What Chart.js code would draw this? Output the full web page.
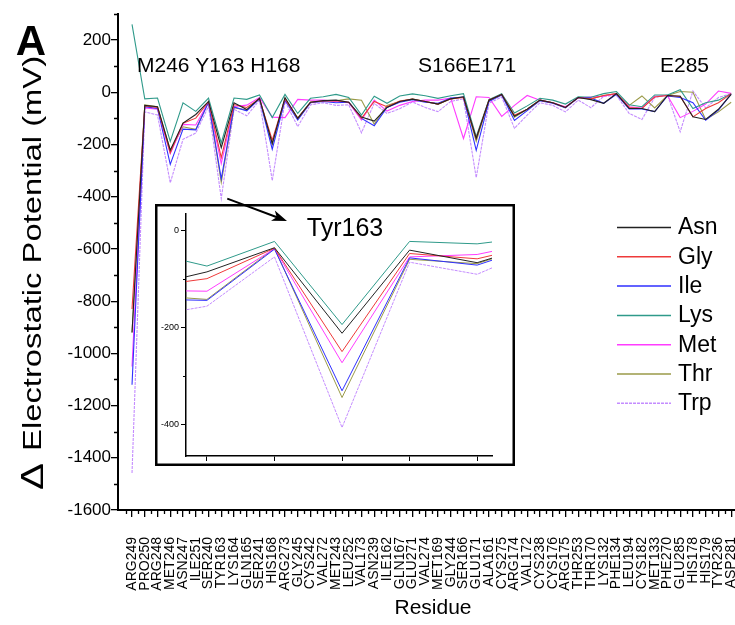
<!DOCTYPE html>
<html>
<head>
<meta charset="utf-8">
<script src="https://cdn.jsdelivr.net/npm/chart.js@4.4.1/dist/chart.umd.min.js"></script>
<style>
  html, body { margin: 0; padding: 0; background: #fff; }
  #wrap { position: relative; width: 735px; height: 625px; }
  #main { position: absolute; left: 0; top: 0; }
  #insetChart { position: absolute; left: 157px; top: 206px; }
</style>
</head>
<body>
<div id="wrap">
  <canvas id="main" width="735" height="625"></canvas>
  <canvas id="insetChart" width="356" height="258"></canvas>
</div>
<script>
// residues along the x axis
const residues = ['ARG249', 'PRO250', 'ARG248', 'MET246', 'ASN247', 'ILE251', 'SER240', 'TYR163',
  'LYS164', 'GLN165', 'SER241', 'HIS168', 'ARG273', 'GLY245', 'CYS242', 'VAL272', 'MET243',
  'LEU252', 'VAL173', 'ASN239', 'ILE162', 'GLN167', 'GLU271', 'VAL274', 'MET169', 'GLY244',
  'SER166', 'GLU171', 'ALA161', 'CYS275', 'ARG174', 'VAL172', 'CYS238', 'CYS176', 'ARG175',
  'THR253', 'THR170', 'LYS132', 'PHE134', 'LEU194', 'CYS182', 'MET133', 'PHE270', 'GLU285',
  'HIS178', 'HIS179', 'TYR236', 'ASP281'];

// change in electrostatic potential (mV) per mutant
const asn = [-920, -50, -55, -222, -118, -85, -35, -212, -40, -66, -23, -196, -20, -100, -38, -32,
  -30, -38, -95, -110, -58, -35, -26, -35, -45, -25, -17, -177, -30, -8, -92, -65,
  -30, -40, -58, -20, -28, -42, -5, -62, -62, -74, -12, -15, -94, -104, -65, -8];
const gly = [-830, -52, -58, -232, -118, -99, -36, -250, -47, -58, -25, -183, -25, -100, -38, -33,
  -32, -38, -100, -35, -55, -33, -26, -35, -45, -25, -20, -177, -30, -8, -88, -65,
  -30, -40, -58, -20, -25, -12, -5, -58, -62, -18, -12, -15, -94, -62, -40, -5];
const ile = [-1120, -55, -62, -276, -141, -144, -38, -331, -56, -71, -25, -218, -30, -106, -40, -35,
  -40, -38, -100, -128, -58, -38, -28, -38, -42, -22, -18, -222, -35, -10, -108, -70,
  -32, -42, -60, -20, -22, -42, -8, -64, -64, -74, -14, -20, -40, -107, -68, -6];
const lys = [260, -25, -22, -188, -40, -73, -22, -194, -22, -27, -10, -97, -8, -81, -23, -17,
  -8, -20, -87, -15, -42, -14, -6, -13, -23, -13, -5, -170, -28, -5, -79, -52,
  -23, -30, -45, -17, -19, -5, 3, -48, -55, -10, -10, 10, -62, -40, -30, -5];
const met = [-1050, -60, -65, -235, -123, -125, -37, -273, -54, -49, -20, -95, -97, -27, -30, -30,
  -35, -40, -106, -30, -72, -50, -35, -30, -30, -22, -177, -17, -20, -92, -50, -12,
  -30, -40, -55, -22, -18, -15, -5, -55, -60, -15, -12, -97, -73, -45, 5, -4];
const thr = [-920, -48, -55, -222, -132, -142, -36, -345, -59, -68, -22, -200, -25, -98, -38, -33,
  -32, -25, -30, -122, -50, -35, -26, -35, -45, -25, -18, -188, -30, -8, -95, -65,
  -30, -40, -58, -20, -25, -12, -5, -50, -14, -60, -12, 3, 0, -104, -75, -38];
const trp = [-1458, -75, -87, -347, -180, -156, -54, -407, -65, -90, -30, -338, -35, -131, -48, -40,
  -50, -48, -155, -42, -81, -63, -37, -58, -74, -35, -25, -327, -42, -18, -138, -87,
  -40, -50, -75, -30, -59, -15, -12, -81, -104, -20, -10, -151, 5, -60, -20, -5];

const seriesNames = ['Asn', 'Gly', 'Ile', 'Lys', 'Met', 'Thr', 'Trp'];
const seriesValues = [asn, gly, ile, lys, met, thr, trp];

const yTicks = [200, 0, -200, -400, -600, -800, -1000, -1200, -1400, -1600];
const yMinorTicks = [300, 100, -100, -300, -500, -700, -900, -1100, -1300, -1500];
const insetXTicks = [5, 6, 7, 8, 9];
const insetYTicks = [0, -200, -400];
const insetYMinorTicks = [-100, -300];

const callouts = ['M246 Y163 H168', 'S166E171', 'E285'];
const insetLabel = 'Tyr163';
const panelLetter = 'A';
const yTitle = 'Electrostatic Potential (mV)';
const xTitle = 'Residue';

const lineStyles = {
  Asn: { color: '#222222' },
  Gly: { color: '#ee3a3a' },
  Ile: { color: '#2f2fff' },
  Lys: { color: '#2f9a8a' },
  Met: { color: '#ff3cff' },
  Thr: { color: '#9a9a48' },
  Trp: { color: '#c48cff', dash: [3, 1] }
};

const FONT = "'Liberation Sans', Arial, sans-serif";

function makeSets(width) {
  return seriesNames.map((name, k) => ({
    label: name,
    data: seriesValues[k].map((v, i) => ({ x: i, y: v })),
    borderColor: lineStyles[name].color,
    borderWidth: width,
    borderDash: lineStyles[name].dash || [],
    pointRadius: 0,
    tension: 0,
    fill: false
  }));
}

// short unlabelled ticks between the labelled ones
const minorTicks = {
  id: 'minorTicks',
  afterDraw(chart, args, opts) {
    const ctx = chart.ctx;
    const xs = chart.scales.x, ys = chart.scales.y;
    ctx.save();
    ctx.strokeStyle = '#000';
    ctx.lineWidth = opts.width;
    ctx.beginPath();
    (opts.x || []).forEach(v => {
      const px = Math.round(xs.getPixelForValue(v)) + 0.5;
      ctx.moveTo(px, xs.top);
      ctx.lineTo(px, xs.top + opts.len);
    });
    (opts.y || []).forEach(v => {
      const py = Math.round(ys.getPixelForValue(v)) + 0.5;
      ctx.moveTo(ys.right, py);
      ctx.lineTo(ys.right - opts.len, py);
    });
    ctx.stroke();
    ctx.restore();
  }
};

// titles, callouts, inset frame, arrow and legend of the main panel
const mainDecor = {
  id: 'mainDecor',
  afterDraw(chart) {
    const ctx = chart.ctx;
    ctx.save();
    ctx.fillStyle = '#000';

    ctx.font = 'bold 42px ' + FONT;
    ctx.textAlign = 'center';
    ctx.textBaseline = 'middle';
    ctx.fillText(panelLetter, 31, 43);

    ctx.font = '21px ' + FONT;
    ctx.textAlign = 'left';
    ctx.fillText(callouts[0], 137, 66);
    ctx.fillText(callouts[1], 418, 66);
    ctx.fillText(callouts[2], 660, 66);

    ctx.textAlign = 'center';
    ctx.fillText(xTitle, 433, 608);

    // rotated y title with the delta sign
    ctx.save();
    ctx.translate(34, 490);
    ctx.rotate(-Math.PI / 2);
    ctx.scale(1.26, 1);
    ctx.textAlign = 'left';
    ctx.font = '32px ' + FONT;
    ctx.fillText('\u0394', 0, 0);
    ctx.font = '26px ' + FONT;
    ctx.fillText(yTitle, 31, 0);
    ctx.restore();

    // inset frame
    ctx.strokeStyle = '#000';
    ctx.lineWidth = 2.5;
    ctx.strokeRect(156.25, 205.25, 357.5, 259.5);

    // arrow towards the inset label
    const xs = chart.scales.x, ys = chart.scales.y;
    const x0 = xs.getPixelForValue(7) + 6, y0 = ys.getPixelForValue(-407);
    const x1 = 287, y1 = 221;
    const ang = Math.atan2(y1 - y0, x1 - x0);
    ctx.lineWidth = 2;
    ctx.beginPath();
    ctx.moveTo(x0, y0);
    ctx.lineTo(x1 - 10 * Math.cos(ang), y1 - 10 * Math.sin(ang));
    ctx.stroke();
    ctx.beginPath();
    ctx.moveTo(x1, y1);
    ctx.lineTo(x1 - 16 * Math.cos(ang - 0.35), y1 - 16 * Math.sin(ang - 0.35));
    ctx.lineTo(x1 - 11 * Math.cos(ang), y1 - 11 * Math.sin(ang));
    ctx.lineTo(x1 - 16 * Math.cos(ang + 0.35), y1 - 16 * Math.sin(ang + 0.35));
    ctx.closePath();
    ctx.fill();

    // legend
    ctx.font = '23px ' + FONT;
    ctx.textAlign = 'left';
    chart.data.datasets.forEach((ds, k) => {
      const y = 227 + 29.3 * k;
      ctx.strokeStyle = ds.borderColor;
      ctx.lineWidth = 1.5;
      ctx.setLineDash(ds.borderDash);
      ctx.beginPath();
      ctx.moveTo(617, y + 0.5);
      ctx.lineTo(671, y + 0.5);
      ctx.stroke();
      ctx.setLineDash([]);
      ctx.fillText(ds.label, 678, y + 1);
    });
    ctx.restore();
  }
};

const insetDecor = {
  id: 'insetDecor',
  afterDraw(chart) {
    const ctx = chart.ctx;
    ctx.save();
    ctx.fillStyle = '#000';
    ctx.font = '25px ' + FONT;
    ctx.textAlign = 'center';
    ctx.textBaseline = 'middle';
    ctx.fillText(insetLabel, 188, 23);
    ctx.restore();
  }
};

const tickFont = { family: FONT, size: 17 };

new Chart(document.getElementById('main'), {
  type: 'line',
  data: { datasets: makeSets(1.1) },
  options: {
    responsive: false,
    animation: false,
    layout: { padding: { top: 14, right: 0, left: 0, bottom: 0 } },
    plugins: {
      legend: { display: false },
      tooltip: { enabled: false },
      minorTicks: { x: residues.map((_, i) => i - 0.5), y: yMinorTicks, len: 4, width: 1.3 }
    },
    scales: {
      x: {
        type: 'linear',
        min: -1.1,
        max: 47.3,
        afterFit: s => { s.height = 115; s.paddingLeft = 0; s.paddingRight = 0; },
        afterBuildTicks: s => { s.ticks = residues.map((_, i) => ({ value: i })); },
        ticks: {
          callback: v => residues[v],
          autoSkip: false,
          minRotation: 90,
          maxRotation: 90,
          padding: 20,
          color: '#000',
          font: { family: FONT, size: 14 }
        },
        grid: { drawOnChartArea: false, drawTicks: true, tickLength: 7, color: '#000', lineWidth: 1.3 },
        border: { display: true, color: '#000', width: 2 }
      },
      y: {
        min: -1600,
        max: 300,
        afterFit: s => { s.width = 118; },
        afterBuildTicks: s => { s.ticks = yTicks.map(v => ({ value: v })); },
        ticks: { callback: v => String(v), padding: 0, color: '#000', font: tickFont },
        grid: { drawOnChartArea: false, drawTicks: true, tickLength: 7, color: '#000', lineWidth: 1.3 },
        border: { display: true, color: '#000', width: 2 }
      }
    }
  },
  plugins: [minorTicks, mainDecor]
});

// close-up around Tyr163
new Chart(document.getElementById('insetChart'), {
  type: 'line',
  data: { datasets: makeSets(1) },
  options: {
    responsive: false,
    animation: false,
    layout: { padding: { top: 4, right: 21, left: 0, bottom: 0 } },
    plugins: {
      legend: { display: false },
      tooltip: { enabled: false },
      minorTicks: { x: [], y: insetYMinorTicks, len: 3, width: 1 }
    },
    scales: {
      x: {
        type: 'linear',
        min: 4.69,
        max: 9.22,
        afterFit: s => { s.height = 8; s.paddingLeft = 0; s.paddingRight = 0; },
        afterBuildTicks: s => { s.ticks = insetXTicks.map(v => ({ value: v })); },
        ticks: { display: false },
        grid: { drawOnChartArea: false, drawTicks: true, tickLength: 5, color: '#000', lineWidth: 1 },
        border: { display: true, color: '#000', width: 1.5 }
      },
      y: {
        min: -466,
        max: 36,
        afterFit: s => { s.width = 29; },
        afterBuildTicks: s => { s.ticks = insetYTicks.map(v => ({ value: v })); },
        ticks: { callback: v => String(v), padding: 2, color: '#000', font: { family: FONT, size: 9 } },
        grid: { drawOnChartArea: false, drawTicks: true, tickLength: 5, color: '#000', lineWidth: 1 },
        border: { display: true, color: '#000', width: 1.5 }
      }
    }
  },
  plugins: [minorTicks, insetDecor]
});
</script>
</body>
</html>
